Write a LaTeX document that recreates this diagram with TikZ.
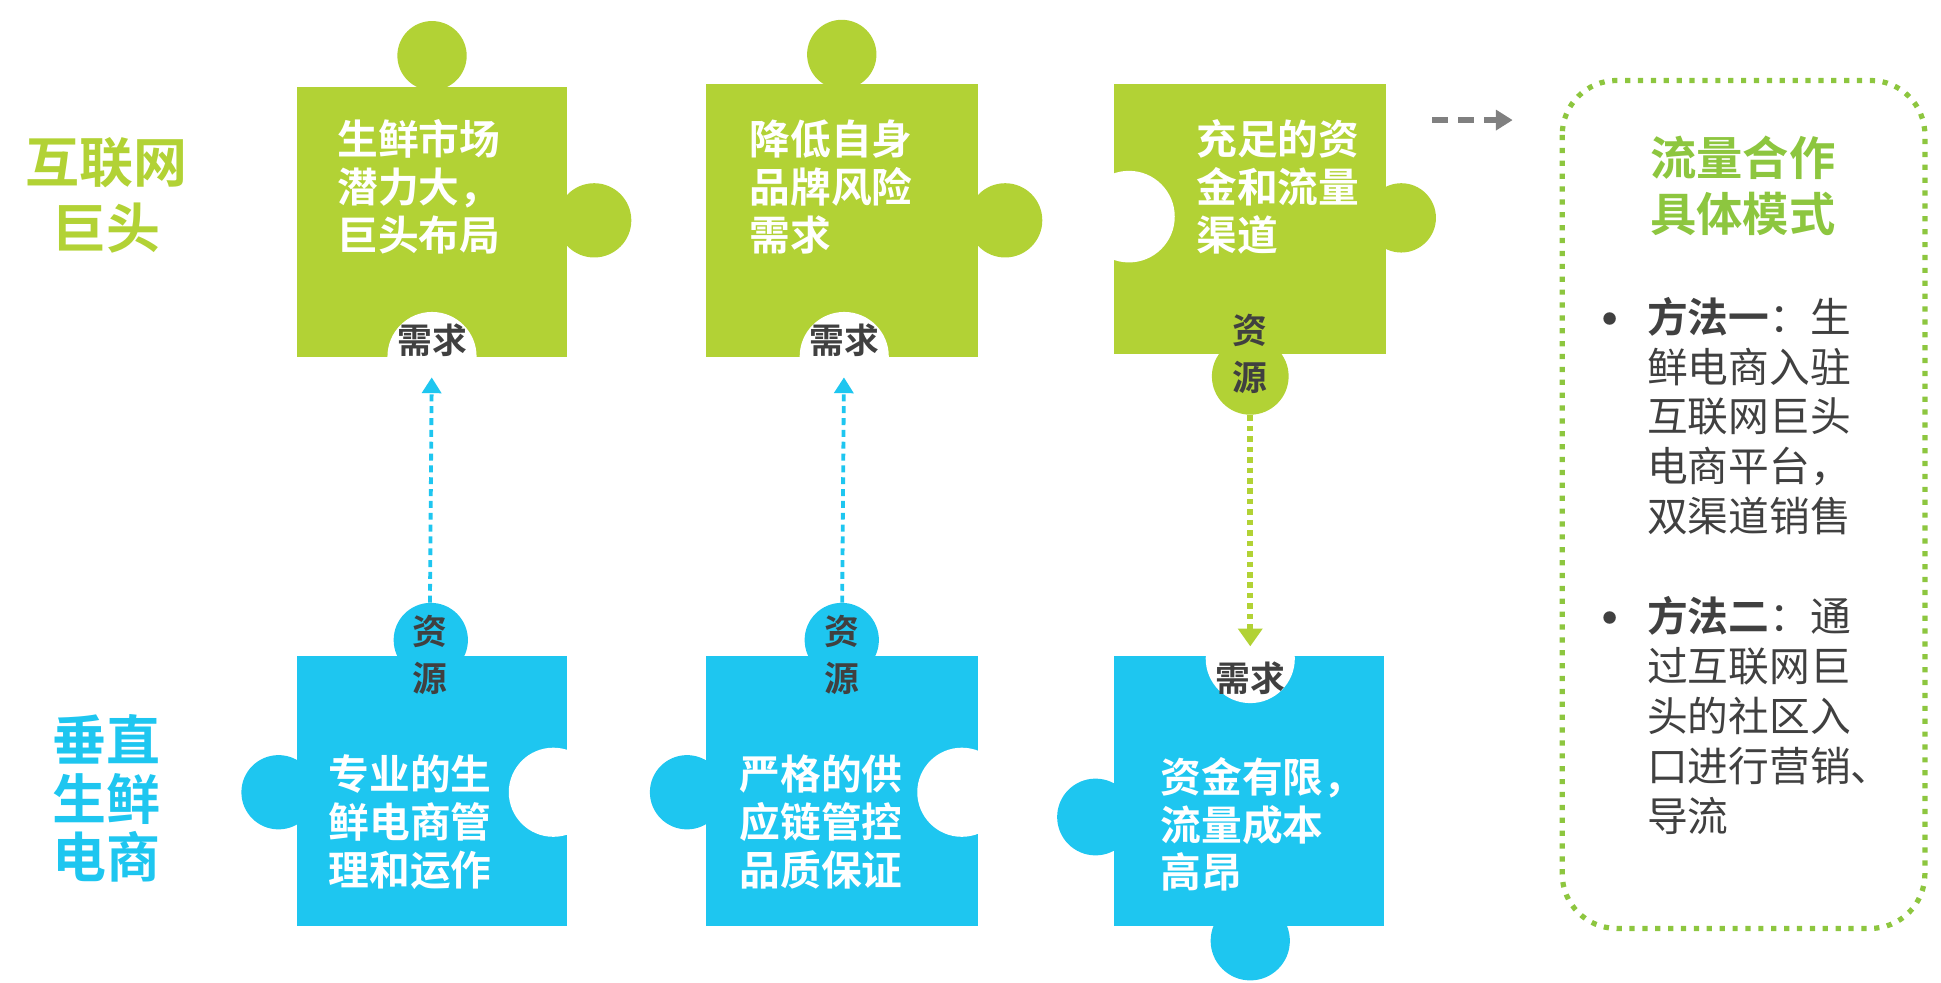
\documentclass[tikz,border=0pt]{standalone}
\usepackage{fontspec}
\setmainfont{Noto Sans CJK SC}[BoldFont={Noto Sans CJK SC Bold}]
\usetikzlibrary{arrows.meta}

\definecolor{lime}{RGB}{178,210,53}
\definecolor{sky}{RGB}{30,198,240}
\definecolor{leaf}{RGB}{141,198,63}
\definecolor{ink}{RGB}{64,64,64}

\tikzset{
  sidetext/.style={align=center,inner sep=0pt,font=\bfseries\fontsize{15.5}{18.9}\selectfont},
  piecetext/.style={anchor=west,align=left,inner sep=0pt,text=white,
    font=\bfseries\fontsize{11.7}{13.7}\selectfont},
  tablabel/.style={align=center,inner sep=0pt,text=ink,
    font=\bfseries\fontsize{10}{13.5}\selectfont},
  bodytext/.style={anchor=west,align=left,inner sep=0pt,text=ink,
    font=\fontsize{11.7}{14.3}\selectfont},
  bulletmark/.style={inner sep=0pt,text=ink,font=\fontsize{17}{17}\selectfont},
  skyarrow/.style={sky,line width=1.1pt,dash pattern=on 2pt off 1.4pt,
    -{Triangle[length=0.16cm,width=0.19cm]}},
  limearrow/.style={lime,line width=1.6pt,dash pattern=on 1.6pt off 1.4pt,
    -{Triangle[length=0.18cm,width=0.24cm]}},
  grayarrow/.style={black!50,line width=1.8pt,dash pattern=on 4.5pt off 3pt,
    -{Triangle[length=0.17cm,width=0.2cm]}},
  modebox/.style={leaf,line width=1.5pt,dash pattern=on 1.5pt off 2.2pt,rounded corners=0.55cm},
}

\begin{document}
\begin{tikzpicture}[x=0.0125cm,y=-0.0125cm]
\path[use as bounding box] (0,0) rectangle (1568,794);

% row labels
\node[sidetext,text=lime] (giant) at (86,158) {互联网\\巨头};
\node[sidetext,text=sky,font=\bfseries\fontsize{15.5}{16.9}\selectfont] (vertical) at (86,645) {垂直\\生鲜\\电商};

% top row: green pieces
\fill[lime] (240,70) rectangle (458,288);
\fill[lime] (349,45) circle (28) (480,178) circle (30);
\fill[white] (349,288) circle (36);
\fill[lime] (570,68) rectangle (790,288);
\fill[lime] (680,44) circle (28) (812,178) circle (30);
\fill[white] (682,288) circle (36);
\fill[lime] (900,68) rectangle (1120,286);
\fill[lime] (1132,176) circle (28) (1010,304) circle (31);
\fill[white] (912,175) circle (37);

\node[piecetext] (market) at (272,151) {生鲜市场\\潜力大，\\巨头布局};
\node[piecetext] (brand) at (605,151) {降低自身\\品牌风险\\需求};
\node[piecetext] (funds) at (966,151) {充足的资\\金和流量\\渠道};
\node[tablabel] (need1) at (349,275) {需求};
\node[tablabel] (need2) at (682,275) {需求};
\node[tablabel] (res3) at (1010,286) {资\\源};

% bottom row: blue pieces
\fill[sky] (240,530) rectangle (458,748);
\fill[sky] (348,517) circle (30) (225,640) circle (30);
\fill[white] (447,640) circle (36);
\fill[sky] (570,530) rectangle (790,748);
\fill[sky] (680,517) circle (30) (555,640) circle (30);
\fill[white] (777,640) circle (36);
\fill[sky] (900,530) rectangle (1118,748);
\fill[sky] (885,660) circle (31) (1010,760) circle (32);
\fill[white] (1010,532) circle (36);

\node[piecetext] (manage) at (265,664) {专业的生\\鲜电商管\\理和运作};
\node[piecetext] (supply) at (597,664) {严格的供\\应链管控\\品质保证};
\node[piecetext] (cost) at (937,666) {资金有限，\\流量成本\\高昂};
\node[tablabel] (res1) at (347,529) {资\\源};
\node[tablabel] (res2) at (680,529) {资\\源};
\node[tablabel] (need3) at (1010,548) {需求};

% exchanges
\draw[skyarrow,shorten >=0.2cm] (res1) -- (need1);
\draw[skyarrow,shorten >=0.2cm] (res2) -- (need2);
\draw[limearrow,shorten >=0.15cm] (res3) -- (need3);

\coordinate (go) at (1157,97);
\coordinate (to) at (1222,97);
\draw[grayarrow] (go) -- (to);

% cooperation modes
\draw[modebox] (1262,65) rectangle (1555,750);
\node[align=center,inner sep=0pt,text=leaf,font=\bfseries\fontsize{13.3}{16}\selectfont] (mode) at (1408,150) {流量合作\\具体模式};
\node[bulletmark] (dot1) at (1301,264) {•};
\node[bodytext] (way1) at (1330,336) {\textbf{方法一}：生\\鲜电商入驻\\互联网巨头\\电商平台，\\双渠道销售};
\node[bulletmark] (dot2) at (1301,506) {•};
\node[bodytext] (way2) at (1330,578) {\textbf{方法二}：通\\过互联网巨\\头的社区入\\口进行营销、\\导流};
\end{tikzpicture}
\end{document}
